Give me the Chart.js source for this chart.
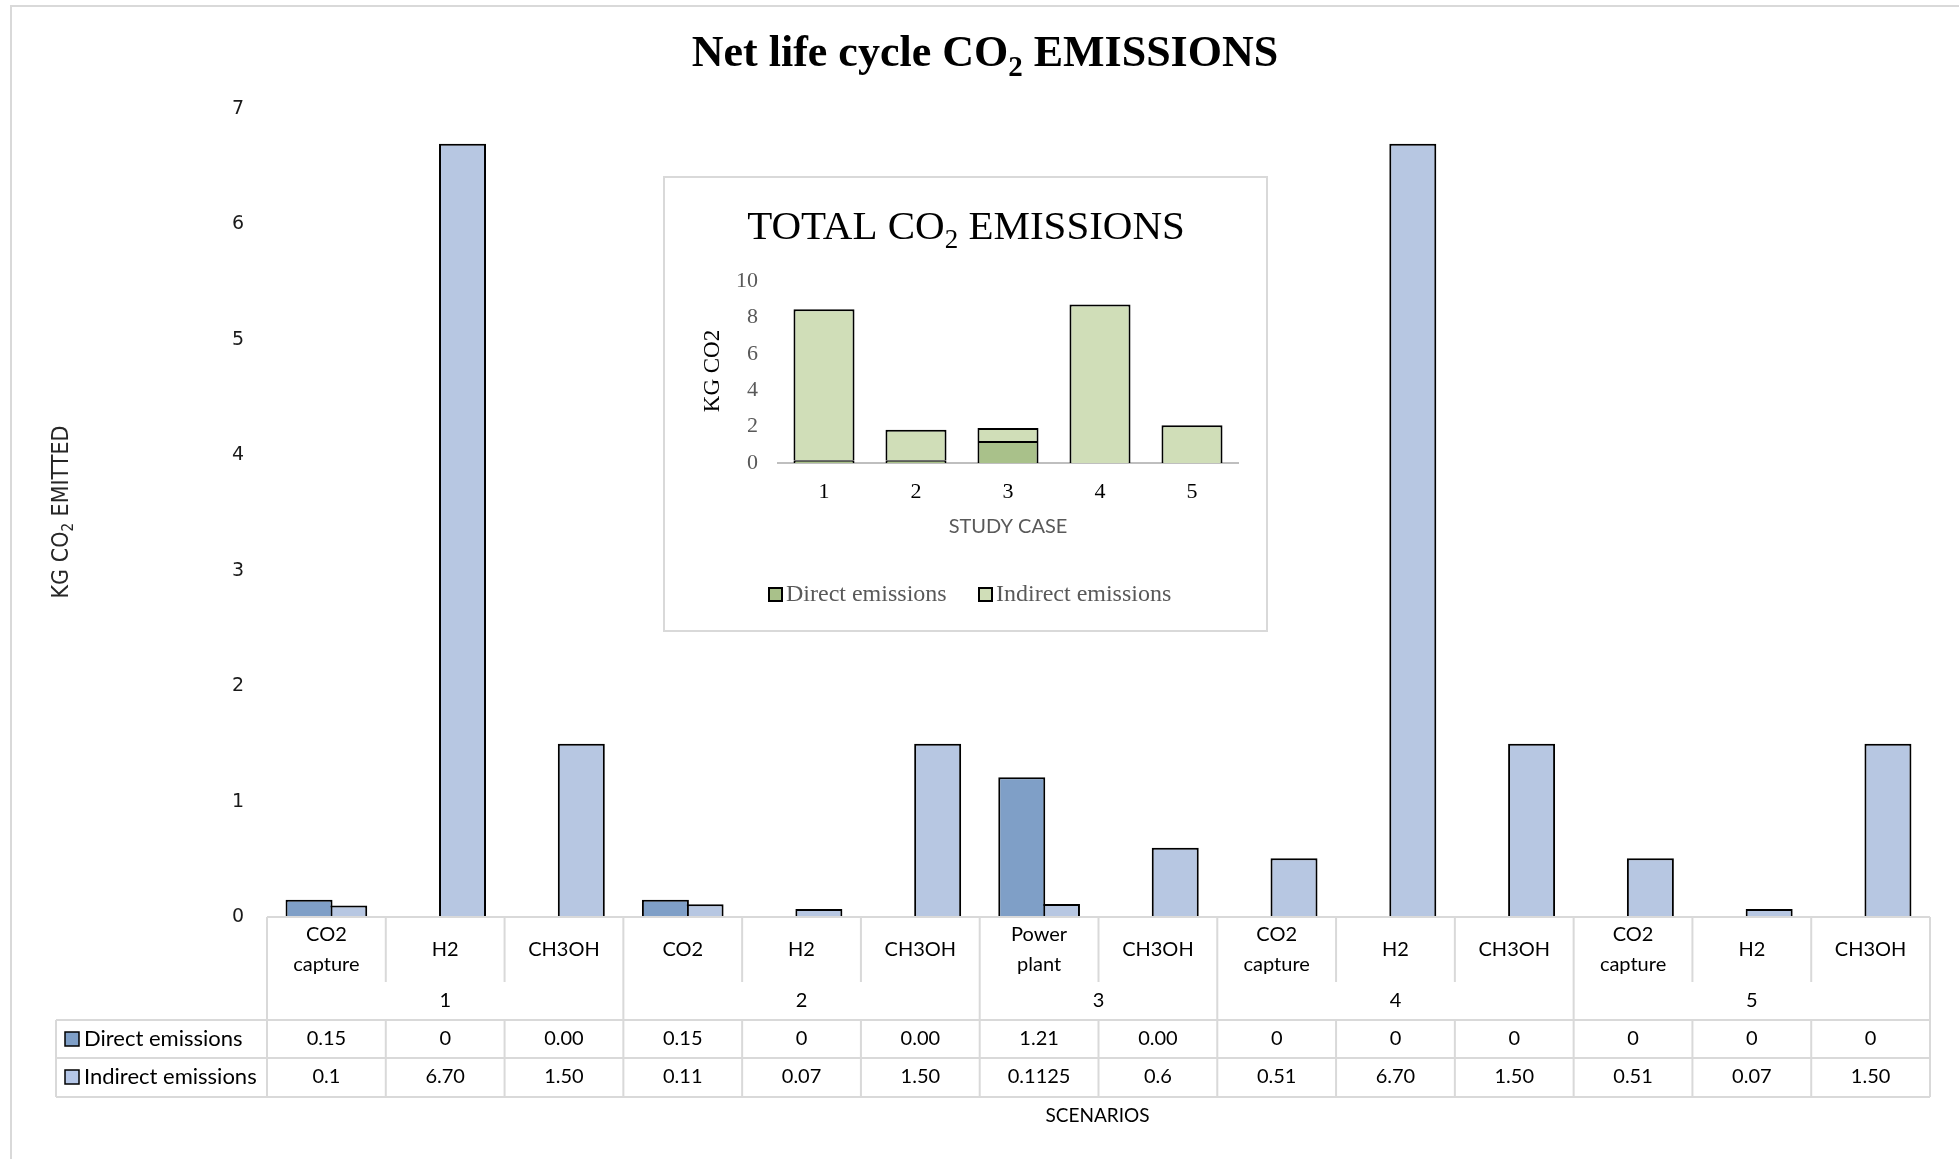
<!DOCTYPE html>
<html>
<head>
<meta charset="utf-8">
<script src="https://cdn.jsdelivr.net/npm/chart.js@4.4.1/dist/chart.umd.min.js"></script>
<style>
  html, body { margin: 0; padding: 0; background: #fff; overflow: hidden; }
  #wrap { position: relative; width: 1959px; height: 1159px; }
  #main { position: absolute; left: 0; top: 0; }
  #inset { position: absolute; left: 663px; top: 176px; width: 605px; height: 456px;
           border: 2px solid #d9d9d9; box-sizing: border-box; background: #fff; }
  #insetChart { display: block; }
</style>
</head>
<body>
<div id="wrap">
  <canvas id="main" width="1959" height="1159"></canvas>
  <div id="inset"><canvas id="insetChart" width="601" height="452"></canvas></div>
</div>
<script>
// main chart data
const scenarioLabels = [['CO2', 'capture'], ['H2'], ['CH3OH'], ['CO2'], ['H2'], ['CH3OH'],
    ['Power', 'plant'], ['CH3OH'], ['CO2', 'capture'], ['H2'], ['CH3OH'], ['CO2', 'capture'], ['H2'], ['CH3OH']];
const caseNames = ['1', '2', '3', '4', '5'];
const caseSpans = [3, 3, 2, 3, 3];
const directEmissions = [0.15, 0, 0, 0.15, 0, 0, 1.21, 0, 0, 0, 0, 0, 0, 0];
const indirectEmissions = [0.1, 6.70, 1.50, 0.11, 0.07, 1.50, 0.1125, 0.6, 0.51, 6.70, 1.50, 0.51, 0.07, 1.50];
const directText = ['0.15', '0', '0.00', '0.15', '0', '0.00', '1.21', '0.00', '0', '0', '0', '0', '0', '0'];
const indirectText = ['0.1', '6.70', '1.50', '0.11', '0.07', '1.50', '0.1125', '0.6', '0.51', '6.70', '1.50', '0.51', '0.07', '1.50'];

// inset chart data
const studyCases = ['1', '2', '3', '4', '5'];
const totalDirect = [0.15, 0.15, 1.21, 0, 0];
const totalIndirect = [8.30, 1.68, 0.71, 8.71, 2.08];

const DIRECT_BLUE = '#7f9fc7';
const INDIRECT_BLUE = 'rgba(170,189,221,0.85)';
const DIRECT_GREEN = '#a9c18a';
const INDIRECT_GREEN = '#d0deb8';

// draws text with a subscript part, parts = [[text, isSub], ...]
function drawParts(ctx, parts, x, y, size, fontHead, fontTail) {
    let widths = parts.map(p => {
        ctx.font = fontHead + (p[1] ? Math.round(size * 0.65) : size) + 'px ' + fontTail;
        return ctx.measureText(p[0]).width;
    });
    let total = widths.reduce((a, b) => a + b, 0);
    let cx = x - total / 2;
    ctx.textAlign = 'left';
    ctx.textBaseline = 'alphabetic';
    parts.forEach((p, i) => {
        ctx.font = fontHead + (p[1] ? Math.round(size * 0.65) : size) + 'px ' + fontTail;
        ctx.fillText(p[0], cx, p[1] ? y + size * 0.22 : y);
        cx += widths[i];
    });
}

const mainDecor = {
    id: 'mainDecor',
    beforeDraw(chart) {
        const ctx = chart.ctx;
        ctx.save();
        ctx.fillStyle = '#fff';
        ctx.fillRect(0, 0, chart.width, chart.height);
        ctx.strokeStyle = '#d9d9d9';
        ctx.lineWidth = 2;
        ctx.beginPath();
        ctx.moveTo(11, chart.height);
        ctx.lineTo(11, 6);
        ctx.lineTo(chart.width, 6);
        ctx.stroke();
        ctx.restore();
    },
    afterDraw(chart) {
        const ctx = chart.ctx;
        const area = chart.chartArea;
        const x = chart.scales.x;
        ctx.save();

        // title
        ctx.fillStyle = '#000';
        drawParts(ctx, [['Net life cycle CO', false], ['2', true], [' EMISSIONS', false]],
            985, 66, 44, 'bold ', '"Liberation Serif", serif');

        // y axis title
        ctx.save();
        ctx.translate(68, 512);
        ctx.rotate(-Math.PI / 2);
        ctx.fillStyle = '#262626';
        drawParts(ctx, [['KG CO', false], ['2', true], [' EMITTED', false]], 0, 0, 23, '',
            '"Liberation Sans Narrow", "DejaVu Sans Condensed", sans-serif');
        ctx.restore();

        // data table
        const colW = (area.right - area.left) / scenarioLabels.length;
        const top = area.bottom;
        const catBottom = top + 65;
        const groupBottom = top + 103;
        const dirBottom = top + 141;
        const indBottom = top + 180;
        const legendLeft = 56;
        ctx.strokeStyle = '#d9d9d9';
        ctx.lineWidth = 2;
        ctx.beginPath();
        ctx.moveTo(area.left, top); ctx.lineTo(area.right, top);
        [groupBottom, dirBottom, indBottom].forEach(yy => { ctx.moveTo(legendLeft, yy); ctx.lineTo(area.right, yy); });
        ctx.moveTo(legendLeft, groupBottom); ctx.lineTo(legendLeft, indBottom);
        let bounds = [0];
        caseSpans.forEach(s => bounds.push(bounds[bounds.length - 1] + s));
        for (let k = 0; k <= scenarioLabels.length; k++) {
            const xx = area.left + k * colW;
            if (bounds.includes(k)) {
                ctx.moveTo(xx, top); ctx.lineTo(xx, indBottom);
            } else {
                ctx.moveTo(xx, top); ctx.lineTo(xx, catBottom);
                ctx.moveTo(xx, groupBottom); ctx.lineTo(xx, indBottom);
            }
        }
        ctx.stroke();

        ctx.fillStyle = '#000';
        ctx.font = '20px Lato';
        ctx.textAlign = 'center';
        ctx.textBaseline = 'middle';
        scenarioLabels.forEach((lines, i) => {
            const cx = x.getPixelForValue(i);
            if (lines.length === 1) {
                ctx.fillText(lines[0], cx, top + 33);
            } else {
                ctx.fillText(lines[0], cx, top + 18);
                ctx.fillText(lines[1], cx, top + 48);
            }
            ctx.fillText(directText[i], cx, top + 122);
            ctx.fillText(indirectText[i], cx, top + 160);
        });
        caseNames.forEach((n, g) => {
            const cx = area.left + (bounds[g] + bounds[g + 1]) / 2 * colW;
            ctx.fillText(n, cx, top + 84);
        });

        // legend keys in the table
        ctx.textAlign = 'left';
        ctx.font = '22px Lato';
        [[DIRECT_BLUE, 'Direct emissions', top + 122], ['#b4c6e7', 'Indirect emissions', top + 160]].forEach(r => {
            ctx.fillStyle = r[0];
            ctx.fillRect(65, r[2] - 7, 14, 14);
            ctx.strokeStyle = '#000';
            ctx.lineWidth = 1.5;
            ctx.strokeRect(65, r[2] - 7, 14, 14);
            ctx.fillStyle = '#000';
            ctx.fillText(r[1], 84, r[2]);
        });

        ctx.textAlign = 'center';
        ctx.font = '19px Lato';
        ctx.fillText('SCENARIOS', (area.left + area.right) / 2 - 1, 1116);
        ctx.restore();
    }
};

new Chart(document.getElementById('main'), {
    type: 'bar',
    data: {
        labels: scenarioLabels,
        datasets: [
            { label: 'Direct emissions', data: directEmissions, backgroundColor: DIRECT_BLUE, borderColor: '#000', borderWidth: 2 },
            { label: 'Indirect emissions', data: indirectEmissions, backgroundColor: INDIRECT_BLUE, borderColor: '#000', borderWidth: 2 }
        ]
    },
    options: {
        responsive: false,
        animation: false,
        categoryPercentage: 0.584,
        barPercentage: 1.355,
        layout: { padding: { left: 200, right: 29, top: 109, bottom: 242 } },
        plugins: { legend: { display: false }, tooltip: { enabled: false } },
        scales: {
            x: { display: false },
            y: {
                min: 0, max: 7,
                ticks: { stepSize: 1, padding: 23, color: '#1a1a1a', font: { family: 'DejaVu Sans', size: 19 } },
                grid: { display: false, drawTicks: false },
                border: { display: false },
                afterFit: s => { s.width = 67; }
            }
        }
    },
    plugins: [mainDecor]
});

const insetDecor = {
    id: 'insetDecor',
    afterDraw(chart) {
        const ctx = chart.ctx;
        const area = chart.chartArea;
        ctx.save();
        ctx.fillStyle = '#000';
        drawParts(ctx, [['TOTAL CO', false], ['2', true], [' EMISSIONS', false]], 301, 61, 41, '',
            '"Liberation Serif", serif');

        ctx.save();
        ctx.translate(48, 193);
        ctx.rotate(-Math.PI / 2);
        ctx.font = '23px "Liberation Serif"';
        ctx.textAlign = 'center';
        ctx.textBaseline = 'middle';
        ctx.fillText('KG CO2', 0, 0);
        ctx.restore();

        ctx.fillStyle = '#595959';
        ctx.font = '20px Lato';
        ctx.textAlign = 'center';
        ctx.textBaseline = 'middle';
        ctx.fillText('STUDY CASE', (area.left + area.right) / 2, 349);

        ctx.font = '24px "Liberation Serif"';
        ctx.textAlign = 'left';
        [[DIRECT_GREEN, 'Direct emissions', 104], [INDIRECT_GREEN, 'Indirect emissions', 314]].forEach(r => {
            ctx.fillStyle = r[0];
            ctx.fillRect(r[2], 410, 13, 13);
            ctx.strokeStyle = '#000';
            ctx.lineWidth = 2;
            ctx.strokeRect(r[2], 410, 13, 13);
            ctx.fillStyle = '#595959';
            ctx.fillText(r[1], r[2] + 17, 417);
        });
        ctx.restore();
    }
};

new Chart(document.getElementById('insetChart'), {
    type: 'bar',
    data: {
        labels: studyCases,
        datasets: [
            { label: 'Direct emissions', data: totalDirect, backgroundColor: DIRECT_GREEN, borderColor: '#000', borderWidth: 2 },
            { label: 'Indirect emissions', data: totalIndirect, backgroundColor: INDIRECT_GREEN, borderColor: '#000', borderWidth: 2 }
        ]
    },
    options: {
        responsive: false,
        animation: false,
        categoryPercentage: 0.84,
        barPercentage: 0.79,
        layout: { padding: { left: 53, right: 28, top: 103, bottom: 127 } },
        plugins: { legend: { display: false }, tooltip: { enabled: false } },
        scales: {
            x: {
                stacked: true,
                grid: { display: false, drawTicks: false },
                border: { display: true, color: '#bfbfbf', width: 2 },
                ticks: { padding: 16, color: '#000', font: { family: 'Liberation Serif', size: 22 } },
                afterFit: s => { s.height = 40; }
            },
            y: {
                stacked: true,
                min: 0, max: 10,
                ticks: { stepSize: 2, padding: 20, color: '#595959', font: { family: 'Liberation Serif', size: 22 } },
                grid: { display: false, drawTicks: false },
                border: { display: false },
                afterFit: s => { s.width = 60; }
            }
        }
    },
    plugins: [insetDecor]
});
</script>
</body>
</html>
